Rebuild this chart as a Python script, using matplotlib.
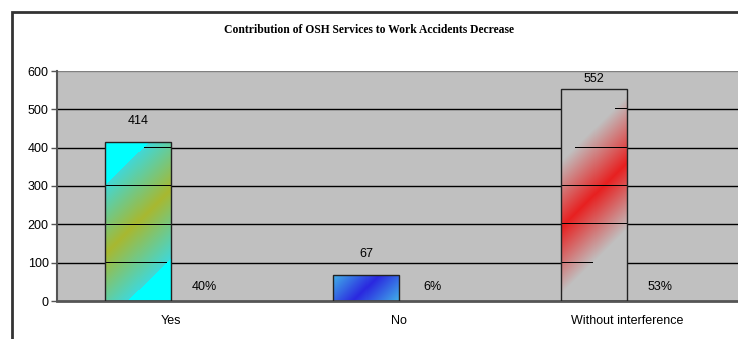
import numpy as np
import matplotlib.pyplot as plt
from matplotlib.patches import Rectangle
from matplotlib.colors import to_rgb

categories = ["Yes", "No", "Without interference"]
counts = [414, 67, 552]
shares = [40, 6, 53]

W, H = 738, 339
fig = plt.figure(figsize=(W / 100, H / 100), dpi=100)
plt.rcParams["font.family"] = ["Liberation Sans", "DejaVu Sans"]

# outer chart frame (runs off the right and bottom edges)
fig.patches.append(Rectangle((12 / W, -0.1), 1.2, (H - 12) / H + 0.1,
                             transform=fig.transFigure, fill=False,
                             edgecolor="#333333", linewidth=2))

fig.text(369 / W, 1 - 30 / H, "Contribution of OSH Services to Work Accidents Decrease",
         ha="center", va="center", fontsize=8.4, fontweight="bold",
         family=["Liberation Serif", "DejaVu Serif"])

ax = fig.add_axes([57 / W, 38 / H, 684 / W, 230 / H])
ax.set_facecolor("#c0c0c0")
ax.set_xlim(0, 3)
ax.set_ylim(0, 600)
ax.set_autoscale_on(False)
ax.set_yticks(range(0, 601, 100))
ax.set_xticks([0.5, 1.5, 2.5])
ax.set_xticklabels(categories, fontsize=9)
ax.tick_params(axis="y", labelsize=9, length=4, width=1, color="#555555", pad=2)
ax.tick_params(axis="x", length=0, pad=10)
for y in range(100, 601, 100):
    ax.axhline(y, color="#808080" if y == 600 else "black", linewidth=1, zorder=1)
for side in ["top", "right"]:
    ax.spines[side].set_visible(False)
ax.spines["left"].set_color("#555555")
ax.spines["left"].set_linewidth(1.5)
ax.spines["bottom"].set_color("#555555")
ax.spines["bottom"].set_linewidth(2)

bar_w = 0.29
lefts = [i + (1 - 2 * bar_w) / 2 for i in range(3)]

# band colour (centre), edge colour, colour outside the band, band half-width in px
gradients = [
    (to_rgb("#a8b830"), to_rgb("#40d8d8"), to_rgb("#00ffff"), 49),
    (to_rgb("#2a28e0"), to_rgb("#40a8e8"), to_rgb("#40a8e8"), 30),
    (to_rgb("#e82020"), to_rgb("#c0c0c0"), to_rgb("#c0c0c0"), 47),
]

to_px = ax.transData
for i, (x0, v) in enumerate(zip(lefts, counts)):
    (px0, py0), (px1, py1) = to_px.transform([(x0, 0), (x0 + bar_w, v)])
    cx, cy = (px0 + px1) / 2, (py0 + py1) / 2
    nx, ny = max(1, round(px1 - px0)), max(1, round(py1 - py0))
    xs = px0 + np.arange(nx) + 0.5 - cx
    ys = py1 - np.arange(ny) - 0.5 - cy
    gx, gy = np.meshgrid(xs, ys)
    s = np.abs(gx - gy) / np.sqrt(2)
    c_mid, c_edge, c_out, half = gradients[i]
    t = np.clip(s / half, 0, 1)[..., None]
    img = (1 - t) * np.array(c_mid) + t * np.array(c_edge)
    img[s > half] = c_out

    # gridlines show through the diagonal gradient band of each bar
    for y in range(100, v, 100):
        row = int(py1 - to_px.transform((x0, y))[1])
        if 0 <= row < ny:
            band = s[row] <= half
            img[row, band] = 0.0

    ax.imshow(img, extent=(x0, x0 + bar_w, 0, v), aspect="auto", zorder=2,
              interpolation="nearest")
    ax.add_patch(Rectangle((x0, 0), bar_w, v, facecolor="none", edgecolor="#222222",
                           linewidth=1, zorder=4))

    lab_y = min(v + 55, 580)
    ax.text(x0 + bar_w / 2, lab_y, str(v), ha="center", va="center", fontsize=9, zorder=5)
    ax.text(x0 + 1.5 * bar_w, 37, f"{shares[i]}%", ha="center", va="center",
            fontsize=9, zorder=5)

fig.savefig("out.png", dpi=100)
